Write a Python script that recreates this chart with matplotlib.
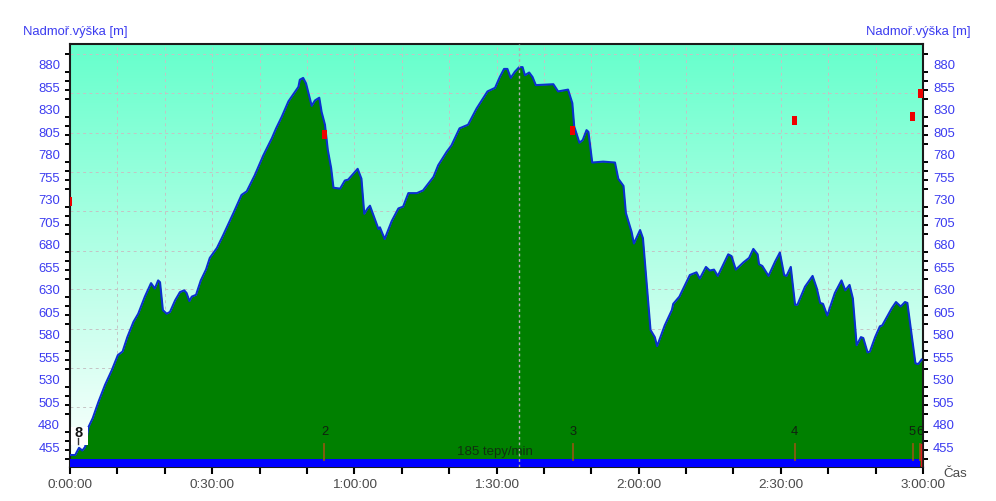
import numpy as np
import matplotlib
matplotlib.use("Agg")
import matplotlib.pyplot as plt
from matplotlib.colors import LinearSegmentedColormap
from matplotlib.patches import Rectangle
from matplotlib.transforms import ScaledTranslation

plt.rcParams['font.family'] = ['Liberation Sans', 'DejaVu Sans']

# Elevation profile: time in minutes, altitude in metres
minutes = [0.0, 1.1, 1.9, 2.6, 3.2, 3.9, 4.8, 6.0, 7.4, 8.8, 10.1, 11.1, 12.1, 13.4, 14.4, 15.8,
           17.1, 17.9, 18.6, 19.0, 19.6, 20.4, 21.1, 22.2, 23.2, 24.1, 24.6, 25.2, 25.7, 26.6, 27.6, 28.7,
           29.5, 31.0, 32.3, 34.5, 36.2, 37.3, 39.0, 40.8, 42.6, 43.5, 44.7, 46.1, 48.2, 48.5, 49.2, 49.8,
           51.0, 51.7, 52.6, 53.1, 53.8, 54.4, 55.1, 55.6, 57.0, 58.0, 58.7, 60.7, 61.5, 62.1, 62.8, 63.3,
           65.1, 65.4, 66.4, 67.9, 69.3, 70.3, 71.4, 73.2, 74.5, 76.7, 77.7, 79.5, 80.5, 82.2, 84.0, 85.8,
           88.1, 89.7, 90.7, 91.6, 92.3, 93.0, 93.9, 94.8, 95.5, 96.0, 96.9, 97.6, 98.3, 102.0, 103.0, 105.1,
           106.0, 106.4, 107.5, 108.2, 109.0, 109.4, 110.2, 112.5, 115.0, 115.7, 116.8, 117.3, 118.5, 119.0,
           120.3, 120.9, 121.5, 122.5, 123.4, 123.9, 125.5, 127.0, 127.3, 128.6, 130.8, 132.2, 132.9, 134.2,
           135.0, 135.9, 136.7, 138.9, 139.6, 140.5, 142.1, 143.3, 144.2, 145.1, 145.4, 146.1, 147.4, 148.8,
           149.8, 150.7, 151.2, 152.1, 153.0, 153.5, 155.1, 156.7, 157.6, 158.3, 158.9, 159.8, 161.4, 162.8,
           163.6, 164.5, 165.2, 166.0, 166.9, 167.4, 168.3, 168.8, 169.9, 170.9, 171.4, 173.4, 174.3, 175.3,
           176.2, 176.7, 178.4, 179.0, 179.7]
altitude = [444, 444, 452, 449, 453, 475, 485, 503, 522, 538, 555, 559, 575, 592, 601, 620,
            635, 629, 638, 636, 605, 601, 603, 616, 625, 627, 624, 615, 620, 622, 638, 650,
            663, 674, 688, 713, 733, 737, 755, 777, 796, 807, 820, 837, 853, 861, 863, 857,
            832, 838, 841, 825, 811, 783, 763, 741, 740, 749, 750, 762, 751, 712, 718, 721,
            695, 697, 684, 704, 718, 720, 735, 735, 738, 753, 766, 781, 788, 807, 811, 829,
            848, 852, 864, 873, 873, 863, 870, 875, 875, 866, 869, 864, 855, 856, 848, 850,
            835, 809, 791, 794, 805, 803, 769, 770, 769, 751, 743, 713, 692, 679,
            694, 685, 647, 583, 575, 565, 588, 605, 612, 620, 644, 647, 640, 653,
            649, 650, 643, 667, 665, 650, 658, 663, 673, 667, 656, 654, 643, 659,
            669, 644, 643, 653, 611, 611, 631, 643, 629, 613, 612, 599, 624, 638,
            627, 633, 618, 566, 575, 574, 558, 559, 575, 587, 588, 607, 614, 609,
            614, 613, 546, 545, 550]

# Red markers (heart rate at each lap)
marker_t = [0.0, 53.7, 106.1, 152.9, 177.8, 179.5]
marker_m = [726, 800, 805, 816, 820, 846]

# Lap marks
lap_t = [53.7, 106.1, 152.9, 177.8, 179.4]
lap_names = ["2", "3", "4", "5", "6"]

alt_labels = list(range(455, 881, 25))
alt_ticks = list(range(440, 900, 10))
alt_grid = [890, 846, 802, 759, 715, 671, 628, 584, 541, 497]
time_major = [0, 30, 60, 90, 120, 150, 180]
time_labels = ["0:00:00", "0:30:00", "1:00:00", "1:30:00", "2:00:00", "2:30:00", "3:00:00"]
time_minor = [10, 20, 40, 50, 70, 80, 100, 110, 130, 140, 160, 170]
cursor_t = 94.7

BLUE_TXT = "#3c3cf0"
GREY_TXT = "#4a4a4a"
W, H = 996, 501

fig = plt.figure(figsize=(W / 100, H / 100), dpi=100)
ax = fig.add_axes([70 / W, 1 - 467 / H, 853 / W, 423 / H])

# background gradient
cmap = LinearSegmentedColormap.from_list("bg", ["#66ffcc", "#ffffff"])
ax.imshow(np.linspace(0, 1, 256).reshape(-1, 1), cmap=cmap, aspect="auto",
          extent=[0, 1, 0, 1], transform=ax.transAxes, zorder=0)

for m in alt_grid:
    ax.axhline(m, color="#c4c4c4", lw=0.7, ls=(0, (3, 3.5)), zorder=1)
for t in time_major + time_minor:
    ax.axvline(t, color="#c4c4c4", lw=0.7, ls=(0, (3, 3.5)), zorder=1)

ax.fill_between(minutes, altitude, 400, color="#008000", lw=0, zorder=2)
ax.plot(minutes, altitude, color="#0a2fd0", lw=1.5, zorder=3)

# blue bar at the bottom
ax.bar(0, 12, bottom=428, width=179.3, align="edge", color="#0000ff", lw=0, zorder=4)

# lap marks
for t, name in zip(lap_t, lap_names):
    ax.plot([t, t], [439, 456], color="#8a5a10", lw=1.3, zorder=5)
    fig.text((70 + t * 853 / 180) / W, 1 - 432 / H, name, fontsize=9.3, color="#102010",
             ha="center", va="center")
ax.plot([179.6, 179.6], [431, 456], color="#e02020", lw=1, zorder=5)

ax.bar(marker_t, 10, bottom=[m - 5 for m in marker_m], width=1.05, color="#ee0000", lw=0, zorder=6)

ax.axvline(cursor_t, color="#b0b0b0", lw=1, ls=(0, (2, 2)), zorder=7)

# pin in white box at the start
ax.add_patch(Rectangle((0.2, 455), 3.6, 20, color="white", lw=0, zorder=8))
ax.text(1.75, 468.5, "8", fontsize=10.5, fontweight="bold", color="#111111", ha="center", va="center", zorder=9)
ax.plot([1.75, 1.75], [456, 463], color="#333333", lw=1, zorder=9)

ax.set_xlim(0, 180)
ax.set_ylim(430.7, 900.7)

ax.set_xticks(time_major)
ax.set_xticklabels(time_labels)
ax.set_xticks(time_minor, minor=True)
ax.set_yticks(alt_labels)
ax.set_yticks(alt_ticks, minor=True)
ax.tick_params(axis="x", which="both", length=5, width=1.5, color="black", direction="out")
ax.tick_params(axis="x", which="major", pad=4, labelsize=9.7, labelcolor=GREY_TXT)
ax.tick_params(axis="y", which="major", length=0, pad=7.2, labelsize=9.4, labelcolor=BLUE_TXT,
               left=True, right=True, labelleft=True, labelright=True)
ax.tick_params(axis="y", which="minor", length=3.6, width=1.4, color="black", direction="out",
               left=True, right=True)

# labels sit a little under their nominal height
shift = ScaledTranslation(0, -2.0 / 100, fig.dpi_scale_trans)
for lab in ax.get_yticklabels():
    lab.set_transform(lab.get_transform() + shift)

for side in ax.spines.values():
    side.set_linewidth(1.5)
    side.set_color("#1a1a1a")

fig.text(23 / W, 1 - 32 / H, "Nadmoř.výška [m]", fontsize=9.35, color=BLUE_TXT, ha="left", va="center")
fig.text(970 / W, 1 - 32 / H, "Nadmoř.výška [m]", fontsize=9.35, color=BLUE_TXT, ha="right", va="center")
fig.text(943 / W, 1 - 474 / H, "Čas", fontsize=9.6, color=GREY_TXT, ha="left", va="center")
fig.text(495 / W, 1 - 452 / H, "185 tepy/min", fontsize=9.5, color="#103010", ha="center", va="center")

fig.savefig("out.png", dpi=100)
